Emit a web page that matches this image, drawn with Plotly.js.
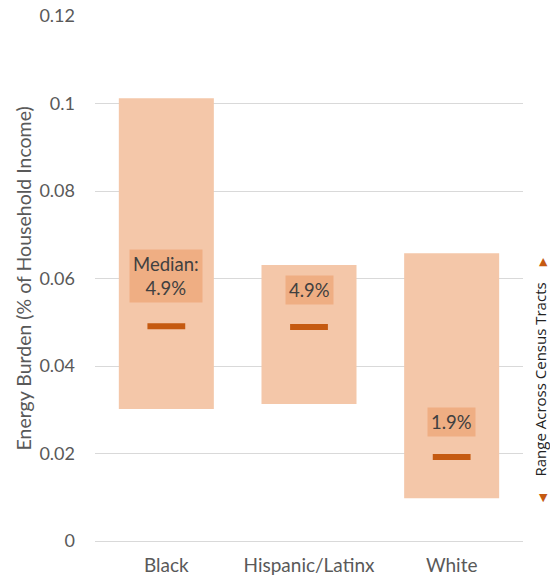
<!DOCTYPE html>
<html>
<head>
<meta charset="utf-8">
<script src="https://cdn.plot.ly/plotly-3.0.1.min.js"></script>
<style>html,body{margin:0;padding:0;background:#fff;}#chart{width:550px;height:575px;}</style>
</head>
<body>
<div id="chart"></div>
<script>
const categories = ["Black", "Hispanic/Latinx", "White"];
const rangeLow = [0.0302, 0.0313, 0.0098];
const rangeHigh = [0.1012, 0.0631, 0.0658];
const medians = [0.0491, 0.0489, 0.0192];
const medianLabels = ["Median:<br>4.9%", "4.9%", "1.9%"];
const labelY = [0.0606, 0.0573, 0.0272];
const yTicks = [0, 0.02, 0.04, 0.06, 0.08, 0.1, 0.12];

const barTrace = {
  type: "bar",
  x: categories,
  base: rangeLow,
  y: rangeHigh.map((h, i) => h - rangeLow[i]),
  width: 0.666,
  marker: {color: "#f4c7a9", line: {width: 0}},
  hoverinfo: "skip",
  showlegend: false
};
const medTrace = {
  type: "scatter",
  mode: "markers",
  x: categories,
  y: medians,
  marker: {symbol: "line-ew", size: 27, line: {width: 6, color: "#c55a11"}, color: "#c55a11"},
  showlegend: false,
  hoverinfo: "skip"
};

const annotations = categories.map((c, i) => ({
  x: c, y: labelY[i], xref: "x", yref: "y",
  text: medianLabels[i], showarrow: false,
  font: {family: "Lato, sans-serif", size: 18.5, color: "#404040"},
  bgcolor: "#efae83", borderpad: 3, align: "center"
}));
annotations.push({
  xref: "paper", yref: "paper", x: -0.166, y: 0.5, xanchor: "center", yanchor: "middle",
  text: "Energy Burden (% of Household Income)", textangle: -90, showarrow: false,
  font: {family: "Lato, sans-serif", size: 19.5, color: "#595959"}
});
annotations.push({
  xref: "paper", yref: "paper", x: 1.039, y: 0.307, xanchor: "center", yanchor: "middle",
  text: "Range Across Census Tracts", textangle: -90, showarrow: false,
  font: {family: "Open Sans, sans-serif", size: 15, color: "#222222"}
});
annotations.push({
  xref: "paper", yref: "paper", x: 1.049, y: 0.533, xanchor: "center", yanchor: "middle",
  text: "▲", showarrow: false, font: {family: "DejaVu Sans", size: 11, color: "#c55a11"}
});
annotations.push({
  xref: "paper", yref: "paper", x: 1.049, y: 0.0838, xanchor: "center", yanchor: "middle",
  text: "▼", showarrow: false, font: {family: "DejaVu Sans", size: 11, color: "#c55a11"}
});

const layout = {
  width: 550, height: 575,
  margin: {l: 95, r: 27, t: 16, b: 34, pad: 0},
  paper_bgcolor: "#ffffff", plot_bgcolor: "#ffffff",
  font: {family: "Lato, sans-serif", color: "#595959"},
  bargap: 0.334,
  xaxis: {
    type: "category", showgrid: false, zeroline: false, showline: false,
    ticks: "", tickfont: {family: "Lato, sans-serif", size: 19, color: "#595959"},
    ticklabelstandoff: 11, fixedrange: true
  },
  yaxis: {
    range: [0, 0.12], tickvals: yTicks, showgrid: true, gridcolor: "#d9d9d9", gridwidth: 1,
    zeroline: true, zerolinecolor: "#d9d9d9", zerolinewidth: 1, showline: false, ticks: "",
    tickfont: {family: "Lato, sans-serif", size: 18, color: "#595959"},
    ticklabelstandoff: 19, fixedrange: true
  },
  annotations: annotations
};

Plotly.newPlot("chart", [barTrace, medTrace], layout, {displayModeBar: false, staticPlot: true});
</script>
</body>
</html>
